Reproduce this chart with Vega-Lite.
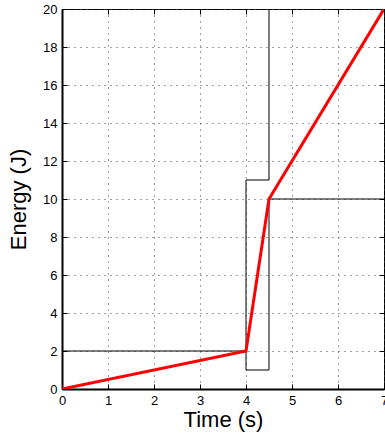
{
  "$schema": "https://vega.github.io/schema/vega-lite/v6.json",
  "width": 322,
  "height": 380,
  "autosize": "none",
  "padding": {"left": 62, "top": 9, "right": 1, "bottom": 51},
  "background": "white",
  "config": {
    "view": {"stroke": "black", "strokeWidth": 1},
    "font": "Liberation Sans",
    "axis": {
      "domainColor": "black",
      "tickColor": "black",
      "labelColor": "black",
      "titleColor": "black",
      "labelFont": "Liberation Sans",
      "titleFont": "Liberation Sans",
      "labelFontSize": 13,
      "titleFontSize": 22,
      "titleFontWeight": "normal",
      "labelFlush": false,
      "labelOverlap": false,
      "gridColor": "#444",
      "gridDash": [1, 5],
      "gridOpacity": 1,
      "gridWidth": 1,
      "tickSize": -5
    }
  },
  "datasets": {
    "series": [
      {"series": "upper", "idx": 0, "time": 0, "energy": 2},
      {"series": "upper", "idx": 1, "time": 4, "energy": 2},
      {"series": "upper", "idx": 2, "time": 4, "energy": 11},
      {"series": "upper", "idx": 3, "time": 4.5, "energy": 11},
      {"series": "upper", "idx": 4, "time": 4.5, "energy": 20},
      {"series": "lower", "idx": 0, "time": 4, "energy": 2},
      {"series": "lower", "idx": 1, "time": 4, "energy": 1},
      {"series": "lower", "idx": 2, "time": 4.5, "energy": 1},
      {"series": "lower", "idx": 3, "time": 4.5, "energy": 10},
      {"series": "lower", "idx": 4, "time": 7, "energy": 10},
      {"series": "energy", "idx": 0, "time": 0, "energy": 0},
      {"series": "energy", "idx": 1, "time": 4, "energy": 2},
      {"series": "energy", "idx": 2, "time": 4.5, "energy": 10},
      {"series": "energy", "idx": 3, "time": 7, "energy": 20}
    ]
  },
  "data": {"name": "series"},
  "resolve": {"axis": {"x": "independent", "y": "independent"}},
  "layer": [
    {
      "transform": [{"filter": "datum.series !== 'energy'"}],
      "mark": {"type": "line", "color": "black", "strokeWidth": 1, "clip": true},
      "encoding": {
        "x": {"field": "time", "type": "quantitative", "scale": {"domain": [0, 7], "nice": false},
          "axis": {"orient": "top", "labels": false, "grid": false, "title": null, "domain": false, "values": [0,1,2,3,4,5,6,7]}},
        "y": {"field": "energy", "type": "quantitative", "scale": {"domain": [0, 20], "nice": false},
          "axis": {"orient": "right", "labels": false, "grid": false, "title": null, "domain": false, "values": [0,2,4,6,8,10,12,14,16,18,20]}},
        "detail": {"field": "series"},
        "order": {"field": "idx"}
      }
    },
    {
      "transform": [{"filter": "datum.series === 'energy'"}],
      "mark": {"type": "line", "color": "#ff0000", "strokeWidth": 3, "clip": true},
      "encoding": {
        "x": {"field": "time", "type": "quantitative", "scale": {"domain": [0, 7], "nice": false},
          "axis": {"orient": "bottom", "title": "Time (s)", "grid": true, "values": [0,1,2,3,4,5,6,7], "labelPadding": 10, "titlePadding": 2, "domainWidth": 2}},
        "y": {"field": "energy", "type": "quantitative", "scale": {"domain": [0, 20], "nice": false},
          "axis": {"orient": "left", "title": "Energy (J)", "grid": true, "values": [0,2,4,6,8,10,12,14,16,18,20], "labelPadding": 10, "titlePadding": 12, "domainWidth": 2}},
        "order": {"field": "idx"}
      }
    }
  ]
}
